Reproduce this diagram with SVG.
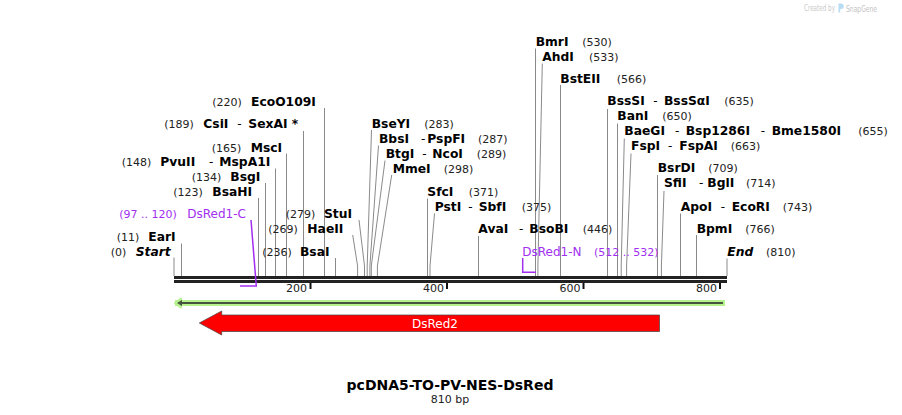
<svg xmlns="http://www.w3.org/2000/svg" width="902" height="415" viewBox="0 0 902 415">
<style>
text{font-family:"DejaVu Sans",Verdana,sans-serif;fill:#000}
.n{font-size:12.3px;font-weight:bold}
.s{font-size:12px}
.p{font-size:11px;fill:#222}
.bi{font-size:12.3px;font-weight:bold;font-style:italic}
.f{font-size:12px;fill:#a22ff0}
.fp{font-size:11px;fill:#a22ff0}
.t{font-size:11px;fill:#222}
.l{stroke:#8a8a8a;stroke-width:1;fill:none}
.fl{stroke:#a22ff0;stroke-width:1.5;fill:none}
</style>
<rect width="902" height="415" fill="#fff"/>
<g id="watermark">
<text x="804" y="11" textLength="31" lengthAdjust="spacingAndGlyphs" style="font-size:8px;fill:#c9c9c9">Created by</text>
<path d="M838.5 3.5 h2.5 a2.7 2.7 0 0 1 0 5.4 h-0.8 v3.6 h-1.7 z" fill="#b7dcf3"/>
<text x="846" y="11.5" textLength="31" lengthAdjust="spacingAndGlyphs" style="font-size:9.5px;fill:#c2c2c2">SnapGene</text>
</g>
<g id="connectors">
<path class="l" d="M174 257.5V276M181.5 243.5V276M258.5 198V276M265.5 183V276M275.5 168.5V276M286.5 153.5V276M303.5 131V276M324.5 108V276M335.5 258V276M427.5 198.5V276M478.5 236V276M535.5 48.5V276M560.5 85V276M607.5 109V276M617.5 123.5V276M657.5 175V276M680.5 213.5V276M696.5 235V276M727 258.5V276"/>
<path class="l" d="M352.7 235L357.6 266V276M359 220L364.5 266V276M371.5 130L367.2 266V276M378.5 145.5L369.9 266V276M385 160.5L371.3 266V276M391.7 175L377.4 266V276M434.5 213.5L430 266V276M542.3 63.5L537.9 266V276M624.3 138.5L621.2 266V276M631 153.5L626.6 266V276M664 191L661.4 266V276"/>
</g>
<g id="backbone">
<rect x="174" y="276" width="553" height="3" fill="#222"/>
<rect x="174" y="280" width="553" height="3" fill="#222"/>
<path d="M310.5 283V289M447 283V289M583.5 283V289M720 283V289" stroke="#111" stroke-width="2"/>
<text class="t" x="307" y="292" text-anchor="end">200</text>
<text class="t" x="444" y="292" text-anchor="end">400</text>
<text class="t" x="580.5" y="292" text-anchor="end">600</text>
<text class="t" x="717" y="292" text-anchor="end">800</text>
</g>
<g id="feature-DsRed1-C">
<path class="fl" d="M240 286H256.3L251 220"/>
<text class="fp" x="119.3" y="218">(97 .. 120)</text>
<text class="f" x="187.3" y="218">DsRed1-C</text>
</g>
<g id="feature-DsRed1-N">
<path class="fl" d="M522.7 258V272.3H536"/>
<text class="f" x="522.3" y="255.7">DsRed1-N</text>
<text class="fp" x="594" y="255.7">(512 .. 532)</text>
</g>
<g id="orf">
<path d="M175 303H725" stroke="#b6f28e" stroke-width="6" fill="none"/>
<path d="M175 303L181 298.5V307.5Z" fill="#b6f28e" stroke="#b6f28e" stroke-width="2" stroke-linejoin="round"/>
<path d="M180 303H723" stroke="#47543f" stroke-width="2" fill="none"/>
<path d="M177 303L182 300V306Z" fill="#47543f"/>
</g>
<g id="DsRed2">
<path d="M199.3 323L221.7 311V315H659.5V331.5H221.7V335Z" fill="#ff0000" stroke="#444" stroke-width="0.7"/>
<text x="435" y="327.5" text-anchor="middle" style="font-size:12px;fill:#fff">DsRed2</text>
</g>
<g id="site-Start"><text class="p" x="110.7" y="256">(0)</text><text class="bi" x="135.7" y="256">Start</text></g>
<g id="site-EarI"><text class="p" x="116.7" y="241">(11)</text><text class="n" x="148.3" y="241">EarI</text></g>
<g id="site-BsaHI"><text class="p" x="173.3" y="196">(123)</text><text class="n" x="212.3" y="196">BsaHI</text></g>
<g id="site-BsgI"><text class="p" x="191.7" y="181">(134)</text><text class="n" x="230.3" y="181">BsgI</text></g>
<g id="site-PvuII"><text class="p" x="121.7" y="166">(148)</text><text class="n" x="160.3" y="166">PvuII</text><text class="s" x="209" y="166">-</text><text class="n" x="219.3" y="166">MspA1I</text></g>
<g id="site-MscI"><text class="p" x="211.7" y="151.5">(165)</text><text class="n" x="250.7" y="151.5">MscI</text></g>
<g id="site-CsiI"><text class="p" x="164.3" y="128">(189)</text><text class="n" x="203.3" y="128">CsiI</text><text class="s" x="237.3" y="128">-</text><text class="n" x="248.3" y="128">SexAI *</text></g>
<g id="site-EcoO109I"><text class="p" x="212.3" y="105.5">(220)</text><text class="n" x="251" y="105.5">EcoO109I</text></g>
<g id="site-BsaI"><text class="p" x="262.3" y="256">(236)</text><text class="n" x="300" y="256">BsaI</text></g>
<g id="site-HaeII"><text class="p" x="268.3" y="233">(269)</text><text class="n" x="307.3" y="233">HaeII</text></g>
<g id="site-StuI"><text class="p" x="285.7" y="217.5">(279)</text><text class="n" x="324" y="217.5">StuI</text></g>
<g id="site-BseYI"><text class="n" x="371.7" y="127.7">BseYI</text><text class="p" x="424.3" y="127.7">(283)</text></g>
<g id="site-BbsI"><text class="n" x="379" y="142.7">BbsI</text><text class="s" x="421" y="142.7">-</text><text class="n" x="427.3" y="142.7">PspFI</text><text class="p" x="478" y="142.7">(287)</text></g>
<g id="site-BtgI"><text class="n" x="385.7" y="157.7">BtgI</text><text class="s" x="422.3" y="157.7">-</text><text class="n" x="432.3" y="157.7">NcoI</text><text class="p" x="476.7" y="157.7">(289)</text></g>
<g id="site-MmeI"><text class="n" x="392.7" y="172.7">MmeI</text><text class="p" x="443.7" y="172.7">(298)</text></g>
<g id="site-SfcI"><text class="n" x="427.3" y="195.7">SfcI</text><text class="p" x="468.7" y="195.7">(371)</text></g>
<g id="site-PstI"><text class="n" x="434.7" y="211">PstI</text><text class="s" x="468.3" y="211">-</text><text class="n" x="478.7" y="211">SbfI</text><text class="p" x="521.7" y="211">(375)</text></g>
<g id="site-AvaI"><text class="n" x="478.3" y="232.7">AvaI</text><text class="s" x="519" y="232.7">-</text><text class="n" x="529.3" y="232.7">BsoBI</text><text class="p" x="582.7" y="232.7">(446)</text></g>
<g id="site-BmrI"><text class="n" x="535.7" y="45.7">BmrI</text><text class="p" x="582.3" y="45.7">(530)</text></g>
<g id="site-AhdI"><text class="n" x="542.3" y="61">AhdI</text><text class="p" x="589" y="61">(533)</text></g>
<g id="site-BstEII"><text class="n" x="560.3" y="82.7">BstEII</text><text class="p" x="616.7" y="82.7">(566)</text></g>
<g id="site-BssSI"><text class="n" x="607.3" y="105">BssSI</text><text class="s" x="653.3" y="105">-</text><text class="n" x="664" y="105">BssSαI</text><text class="p" x="724.3" y="105">(635)</text></g>
<g id="site-BanI"><text class="n" x="617.3" y="120.3">BanI</text><text class="p" x="662.3" y="120.3">(650)</text></g>
<g id="site-BaeGI"><text class="n" x="624.3" y="135">BaeGI</text><text class="s" x="675" y="135">-</text><text class="n" x="685.7" y="135">Bsp1286I</text><text class="s" x="760.7" y="135">-</text><text class="n" x="771.7" y="135">Bme1580I</text><text class="p" x="858.3" y="135">(655)</text></g>
<g id="site-FspI"><text class="n" x="631" y="150">FspI</text><text class="s" x="668" y="150">-</text><text class="n" x="679.3" y="150">FspAI</text><text class="p" x="730.7" y="150">(663)</text></g>
<g id="site-BsrDI"><text class="n" x="657.7" y="172.3">BsrDI</text><text class="p" x="708.3" y="172.3">(709)</text></g>
<g id="site-SfiI"><text class="n" x="664" y="187.3">SfiI</text><text class="s" x="699" y="187.3">-</text><text class="n" x="707.3" y="187.3">BglI</text><text class="p" x="746" y="187.3">(714)</text></g>
<g id="site-ApoI"><text class="n" x="680.7" y="210.7">ApoI</text><text class="s" x="720.7" y="210.7">-</text><text class="n" x="731.7" y="210.7">EcoRI</text><text class="p" x="782.7" y="210.7">(743)</text></g>
<g id="site-BpmI"><text class="n" x="696.7" y="232.7">BpmI</text><text class="p" x="745.3" y="232.7">(766)</text></g>
<g id="site-End"><text class="bi" x="727.3" y="255.7">End</text><text class="p" x="766" y="255.7">(810)</text></g>
<g id="title">
<text x="450" y="390" text-anchor="middle" style="font-size:14px;font-weight:bold">pcDNA5-TO-PV-NES-DsRed</text>
<text x="450" y="402.5" text-anchor="middle" style="font-size:11px;fill:#222">810 bp</text>
</g>
</svg>
